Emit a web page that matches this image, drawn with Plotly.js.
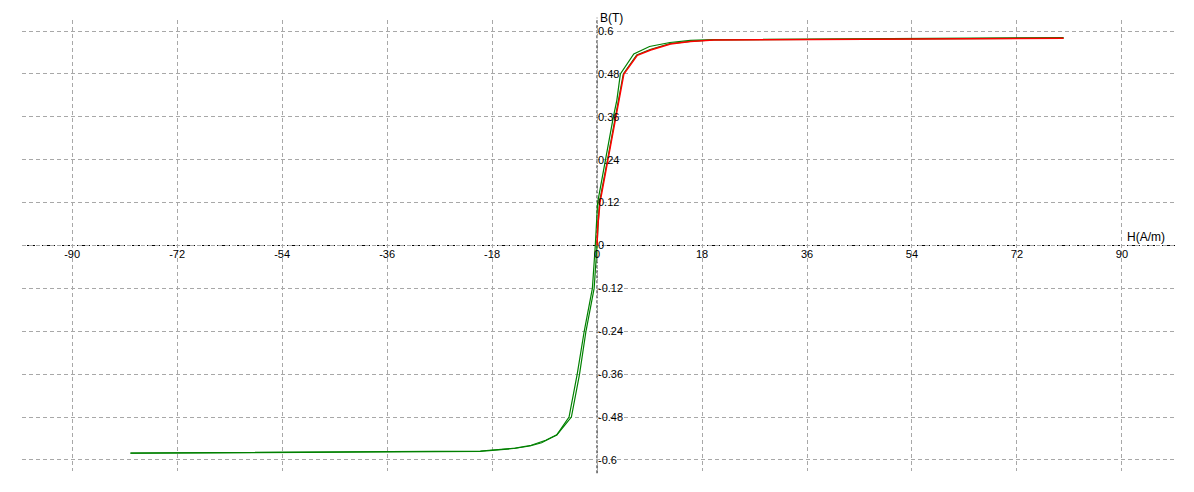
<!DOCTYPE html>
<html>
<head>
<meta charset="utf-8">
<script src="https://cdn.plot.ly/plotly-3.0.1.min.js"></script>
<style>html,body{margin:0;padding:0;background:#fff;}#chart{width:1194px;height:492px;}</style>
</head>
<body>
<div id="chart"></div>
<script>
// Descending branch of the hysteresis loop (green)
const descH = [80, 46, 35, 20, 16, 12.5, 9, 6.3, 4.0, 3.4, 2.8, 1.5, 0.1, -0.3, -0.8, -2.2, -3.4, -4.8, -6.9, -9.5, -11.5, -14.3, -20, -50, -80];
const descB = [0.582, 0.579, 0.578, 0.576, 0.574, 0.568, 0.557, 0.536, 0.48, 0.407, 0.36, 0.24, 0.12, 0.0, -0.12, -0.24, -0.36, -0.48, -0.53, -0.552, -0.561, -0.568, -0.576, -0.579, -0.581];
// Ascending branch of the hysteresis loop (green)
const ascH = [-80, -50, -20, -14, -11.3, -8.8, -6.9, -4.4, -3.0, -1.9, -0.5, 0.0, 0.4, 1.8, 3.2, 3.7, 4.5, 6.8, 9.1, 12.5, 16, 20, 46, 80];
const ascB = [-0.581, -0.578, -0.575, -0.567, -0.559, -0.545, -0.53, -0.48, -0.36, -0.24, -0.12, 0.0, 0.12, 0.24, 0.36, 0.407, 0.48, 0.533, 0.548, 0.565, 0.571, 0.575, 0.578, 0.580];
// Initial magnetization curve (red)
const initH = [0, 0.1, 0.5, 1.9, 3.3, 3.8, 4.6, 6.9, 9.2, 12.6, 16, 20, 46, 80];
const initB = [0, 0.05, 0.12, 0.24, 0.36, 0.407, 0.48, 0.532, 0.547, 0.564, 0.571, 0.575, 0.578, 0.580];

const xTicks = [-90, -72, -54, -36, -18, 0, 18, 36, 54, 72, 90];
const yTicks = [-0.6, -0.48, -0.36, -0.24, -0.12, 0, 0.12, 0.24, 0.36, 0.48, 0.6];

const font = {family: 'Liberation Sans, Arial, sans-serif', size: 11, color: '#000'};

const traces = [
  {x: descH, y: descB, mode: 'lines', line: {color: '#008000', width: 1.2}, hoverinfo: 'skip'},
  {x: ascH, y: ascB, mode: 'lines', line: {color: '#008000', width: 1.2}, hoverinfo: 'skip'},
  {x: initH, y: initB, mode: 'lines', line: {color: '#ff0000', width: 1.5}, hoverinfo: 'skip'}
];

const layout = {
  width: 1194, height: 492,
  margin: {l: 22, r: 19, t: 20, b: 21},
  paper_bgcolor: '#fff', plot_bgcolor: '#fff',
  showlegend: false,
  font: font,
  xaxis: {
    range: [-98.6, 99.1], tickvals: xTicks, ticktext: xTicks.map(String),
    showgrid: true, gridcolor: '#a8a8a8', gridwidth: 1, griddash: '4px,3px',
    zeroline: false, showline: false, ticks: '',
    anchor: 'free', position: 0.5, side: 'bottom',
    tickfont: font, fixedrange: true
  },
  yaxis: {
    range: [-0.631, 0.631], tickvals: yTicks, ticktext: yTicks.map(String),
    showgrid: true, gridcolor: '#a8a8a8', gridwidth: 1, griddash: '4px,3px',
    zeroline: false, showline: false, ticks: '',
    anchor: 'free', position: 0.4987, side: 'right',
    tickfont: font, fixedrange: true
  },
  shapes: [
    {type: 'line', xref: 'paper', x0: 0, x1: 1, yref: 'y', y0: 0, y1: 0, line: {color: '#fff', width: 1}, layer: 'below'},
    {type: 'line', xref: 'x', x0: 0, x1: 0, yref: 'paper', y0: 0, y1: 1, line: {color: '#fff', width: 1}, layer: 'below'},
    {type: 'line', xref: 'paper', x0: 0, x1: 1, yref: 'y', y0: 0, y1: 0, line: {color: '#000', width: 1, dash: '3px,2px'}, layer: 'below'},
    {type: 'line', xref: 'x', x0: 0, x1: 0, yref: 'paper', y0: -0.005, y1: 1.005, line: {color: '#000', width: 1, dash: '3px,2px'}, layer: 'below'}
  ],
  annotations: [
    {text: 'B(T)', xref: 'x', x: 0, xanchor: 'left', xshift: 1, yref: 'paper', y: 1, yanchor: 'middle', yshift: 2, showarrow: false, font: {family: font.family, size: 12, color: '#000'}},
    {text: 'H(A/m)', xref: 'x', x: 90, xanchor: 'left', xshift: 3, yref: 'y', y: 0, yanchor: 'bottom', yshift: 0, showarrow: false, font: {family: font.family, size: 12, color: '#000'}}
  ]
};

Plotly.newPlot('chart', traces, layout, {displayModeBar: false, staticPlot: true});
</script>
</body>
</html>
